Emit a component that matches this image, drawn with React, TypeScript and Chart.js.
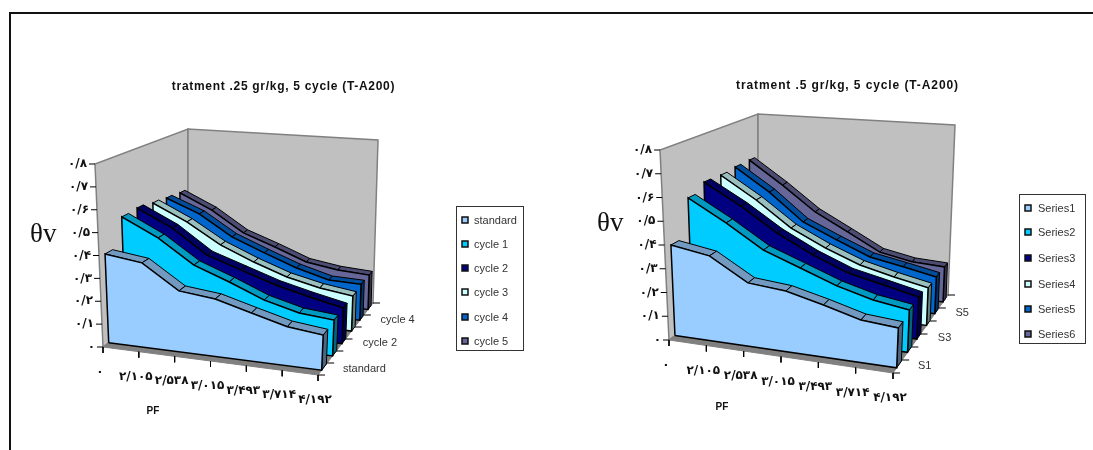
import React, { useEffect, useRef } from "react";
import { Chart, registerables } from "chart.js";
Chart.register(...registerables);

const categories = ["۰", "۲/۱۰۵", "۲/۵۳۸", "۳/۰۱۵", "۳/۴۹۳", "۳/۷۱۴", "۴/۱۹۲"];
const valueTicks = [0, 0.1, 0.2, 0.3, 0.4, 0.5, 0.6, 0.7, 0.8];
const valueTickLabels = ["۰", "۰/۱", "۰/۲", "۰/۳", "۰/۴", "۰/۵", "۰/۶", "۰/۷", "۰/۸"];

const leftSeriesNames = ["standard", "cycle 1", "cycle 2", "cycle 3", "cycle 4", "cycle 5"];
const leftDepthLabels = ["standard", "", "cycle 2", "", "cycle 4", ""];
const leftStandard = [0.392, 0.372, 0.268, 0.252, 0.21, 0.17, 0.153];
const leftCycle1 = [0.516, 0.438, 0.333, 0.275, 0.212, 0.173, 0.16];
const leftCycle2 = [0.521, 0.444, 0.335, 0.283, 0.232, 0.195, 0.163];
const leftCycle3 = [0.507, 0.431, 0.337, 0.272, 0.218, 0.184, 0.163];
const leftCycle4 = [0.497, 0.433, 0.335, 0.273, 0.216, 0.175, 0.171];
const leftCycle5 = [0.488, 0.414, 0.313, 0.258, 0.199, 0.176, 0.167];

const rightSeriesNames = ["Series1", "Series2", "Series3", "Series4", "Series5", "Series6"];
const rightDepthLabels = ["S1", "", "S3", "", "S5", ""];
const rightS1 = [0.385, 0.36, 0.267, 0.254, 0.217, 0.176, 0.165];
const rightS2 = [0.547, 0.456, 0.357, 0.299, 0.242, 0.202, 0.18];
const rightS3 = [0.583, 0.492, 0.389, 0.31, 0.249, 0.216, 0.183];
const rightS4 = [0.579, 0.479, 0.366, 0.292, 0.233, 0.197, 0.167];
const rightS5 = [0.586, 0.48, 0.354, 0.286, 0.224, 0.196, 0.167];
const rightS6 = [0.587, 0.477, 0.36, 0.279, 0.199, 0.17, 0.163];

const faceColors = ["#99CCFF", "#00CCFF", "#000080", "#CCFFFF", "#0066CC", "#666699"];
const topColors = ["#7299BF", "#0099BF", "#000060", "#99BFBF", "#004C99", "#4C4C73"];
const endColors = ["#4C6680", "#006680", "#000040", "#668080", "#003366", "#33334D"];
const depthFronts = [0.067, 0.265, 0.435, 0.61, 0.76, 0.91];
const ribbonDepths = [0.085, 0.075, 0.07, 0.065, 0.06, 0.055];

type P = { x: number; y: number };
type Panel = {
  offset: number; width: number; title: string; titleX: number; titleY: number; titleSpacing: string;
  A: P; B: P; C: P; D: P; TA: P; TB: P; TC: P; TD: P;
  series: number[][]; names: string[]; depthLabels: string[];
  legend: { x0: number; x1: number; y0: number; y1: number; ys: number[]; sym: number; text: number };
  theta: P; pf: P;
};

const panels: Panel[] = [
  {
    offset: 0, width: 547, title: "tratment .25 gr/kg, 5 cycle (T-A200)", titleX: 283.5, titleY: 87, titleSpacing: "0.7px",
    A: { x: 103, y: 347 }, B: { x: 318, y: 375 }, C: { x: 373, y: 303 }, D: { x: 188, y: 282 },
    TA: { x: 95, y: 164 }, TB: { x: 326, y: 190 }, TC: { x: 378, y: 140 }, TD: { x: 188, y: 129 },
    series: [leftStandard, leftCycle1, leftCycle2, leftCycle3, leftCycle4, leftCycle5],
    names: leftSeriesNames, depthLabels: leftDepthLabels,
    legend: { x0: 456, x1: 523, y0: 206, y1: 350, ys: [221, 245, 269, 293, 318, 342], sym: 462, text: 474 },
    theta: { x: 30, y: 235 }, pf: { x: 153, y: 411 },
  },
  {
    offset: 547, width: 546, title: "tratment .5 gr/kg, 5 cycle (T-A200)", titleX: 847.5, titleY: 85.5, titleSpacing: "0.9px",
    A: { x: 669, y: 340 }, B: { x: 893, y: 373 }, C: { x: 948, y: 295 }, D: { x: 758, y: 272 },
    TA: { x: 660, y: 150 }, TB: { x: 901, y: 178 }, TC: { x: 955, y: 125 }, TD: { x: 758, y: 114 },
    series: [rightS1, rightS2, rightS3, rightS4, rightS5, rightS6],
    names: rightSeriesNames, depthLabels: rightDepthLabels,
    legend: { x0: 1019, x1: 1085, y0: 194, y1: 343, ys: [209, 233, 259, 285, 310, 335], sym: 1025, text: 1038 },
    theta: { x: 597, y: 224 }, pf: { x: 722, y: 407 },
  },
];

const lerp = (a: P, b: P, t: number): P => ({ x: a.x + (b.x - a.x) * t, y: a.y + (b.y - a.y) * t });

function makeProjector(p: Panel) {
  return (u: number, d: number, v: number): P => {
    const bottom = lerp(lerp(p.A, p.B, u), lerp(p.D, p.C, u), d);
    const top = lerp(lerp(p.TA, p.TB, u), lerp(p.TD, p.TC, u), d);
    return lerp(bottom, top, v / 0.8);
  };
}

function poly(points: P[], fill: string, border: string, width = 1) {
  return {
    data: [...points, points[0]],
    fill: "shape",
    backgroundColor: fill,
    borderColor: border,
    borderWidth: width,
    pointRadius: 0,
    tension: 0,
    clip: false,
  };
}
function segment(a: P, b: P, color = "#000", width = 1) {
  return {
    data: [a, b],
    fill: false,
    borderColor: color,
    borderWidth: width,
    pointRadius: 0,
    tension: 0,
    clip: false,
  };
}

function buildDatasets(p: Panel) {
  const proj = makeProjector(p);
  const n = categories.length - 1;
  const list: any[] = [];
  list.push(poly([p.A, p.D, p.TD, p.TA], "#C0C0C0", "#808080", 1.5));
  list.push(poly([p.D, p.C, p.TC, p.TD], "#C0C0C0", "#808080", 1.5));
  list.push(poly([p.A, p.B, p.C, p.D], "#808080", "#808080", 1));
  valueTicks.forEach((v) => {
    const a = proj(0, 0, v);
    list.push(segment({ x: a.x - 6, y: a.y }, a));
  });
  categories.forEach((_, i) => {
    const a = proj(i / n, 0, 0);
    list.push(segment(a, { x: a.x, y: a.y + 6 }));
  });
  for (let k = 0; k <= 6; k++) {
    const a = proj(1, k / 6, 0);
    list.push(segment(a, { x: a.x + 7, y: a.y }));
  }
  for (let s = p.series.length - 1; s >= 0; s--) {
    const vals = p.series[s];
    const d0 = depthFronts[s];
    const d1 = d0 + ribbonDepths[s];
    list.push(
      poly([proj(1, d0, vals[n]), proj(1, d1, vals[n]), proj(1, d1, 0), proj(1, d0, 0)], endColors[s], "#000", 1)
    );
    for (let i = 0; i < n; i++) {
      const u0 = i / n;
      const u1 = (i + 1) / n;
      list.push(
        poly(
          [proj(u0, d0, vals[i]), proj(u1, d0, vals[i + 1]), proj(u1, d1, vals[i + 1]), proj(u0, d1, vals[i])],
          topColors[s],
          "#000",
          1
        )
      );
    }
    const outline = vals.map((v, i) => proj(i / n, d0, v));
    list.push(poly([proj(0, d0, 0), ...outline, proj(1, d0, 0)], faceColors[s], "#000", 1.5));
  }
  return list.reverse();
}

function textPlugin(p: Panel) {
  const proj = makeProjector(p);
  const n = categories.length - 1;
  return {
    id: "panelText",
    afterDraw(chart: any) {
      const ctx = chart.ctx as CanvasRenderingContext2D;
      const X = (x: number) => chart.scales.x.getPixelForValue(x);
      const Y = (y: number) => chart.scales.y.getPixelForValue(y);
      ctx.save();
      ctx.textBaseline = "middle";
      ctx.fillStyle = "#111";
      ctx.font = "bold 12px 'Liberation Sans'";
      (ctx as any).letterSpacing = p.titleSpacing;
      ctx.textAlign = "center";
      ctx.fillText(p.title, X(p.titleX), Y(p.titleY));
      (ctx as any).letterSpacing = "0px";
      ctx.font = "bold 12px 'DejaVu Sans'";
      ctx.textAlign = "right";
      valueTicks.forEach((v, i) => {
        const a = proj(0, 0, v);
        ctx.fillText(valueTickLabels[i], X(a.x - 8), Y(a.y));
      });
      ctx.textAlign = "center";
      categories.forEach((c, i) => {
        const a = proj(i / n, 0, 0);
        ctx.fillText(c, X(a.x - 3), Y(a.y + 25));
      });
      ctx.font = "11px 'Liberation Sans'";
      ctx.fillStyle = "#333";
      ctx.textAlign = "left";
      p.depthLabels.forEach((c, s) => {
        if (!c) return;
        const a = proj(1, depthFronts[s] + ribbonDepths[s] / 2, 0);
        ctx.fillText(c, X(a.x + 19), Y(a.y + 2));
      });
      ctx.fillStyle = "#111";
      ctx.font = "bold 10px 'Liberation Sans'";
      ctx.textAlign = "center";
      ctx.fillText("PF", X(p.pf.x), Y(p.pf.y));
      ctx.font = "27px 'Liberation Serif'";
      ctx.textAlign = "left";
      ctx.fillText("θv", X(p.theta.x), Y(p.theta.y));
      const L = p.legend;
      ctx.strokeStyle = "#333";
      ctx.lineWidth = 1;
      ctx.strokeRect(X(L.x0) + 0.5, Y(L.y0) + 0.5, L.x1 - L.x0, L.y1 - L.y0);
      ctx.font = "11px 'Liberation Sans'";
      p.names.forEach((name, s) => {
        const y = Y(L.ys[s]);
        ctx.fillStyle = faceColors[s];
        ctx.fillRect(X(L.sym), y - 4, 6, 6);
        ctx.strokeStyle = "#111";
        ctx.lineWidth = 1.5;
        ctx.strokeRect(X(L.sym), y - 4, 6, 6);
        ctx.fillStyle = "#333";
        ctx.fillText(name, X(L.text), y);
      });
      ctx.restore();
    },
  };
}

function PanelChart({ panel }: { panel: Panel }) {
  const ref = useRef<HTMLCanvasElement | null>(null);
  useEffect(() => {
    const chart = new Chart(ref.current as HTMLCanvasElement, {
      type: "line",
      data: { datasets: buildDatasets(panel) as any },
      options: {
        animation: false,
        responsive: false,
        events: [],
        layout: { padding: 0 },
        scales: {
          x: { type: "linear", min: panel.offset, max: panel.offset + panel.width, display: false },
          y: { type: "linear", min: 0, max: 450, reverse: true, display: false },
        },
        plugins: {
          legend: { display: false },
          tooltip: { enabled: false },
          filler: { propagate: false, drawTime: "beforeDatasetDraw" },
        },
      } as any,
      plugins: [textPlugin(panel)],
    });
    return () => chart.destroy();
  }, [panel]);
  return (
    <canvas
      ref={ref}
      width={panel.width}
      height={450}
      style={{ position: "absolute", left: panel.offset, top: 0, width: panel.width, height: 450 }}
    />
  );
}

export default function App() {
  return (
    <div style={{ position: "fixed", left: 0, top: 0, width: 1093, height: 450, background: "#fff", overflow: "hidden" }}>
      {panels.map((p) => (
        <PanelChart key={p.offset} panel={p} />
      ))}
      <div style={{ position: "absolute", left: 9, top: 12, width: 1084, height: 2, background: "#111" }} />
      <div style={{ position: "absolute", left: 9, top: 12, width: 2, height: 438, background: "#111" }} />
    </div>
  );
}
